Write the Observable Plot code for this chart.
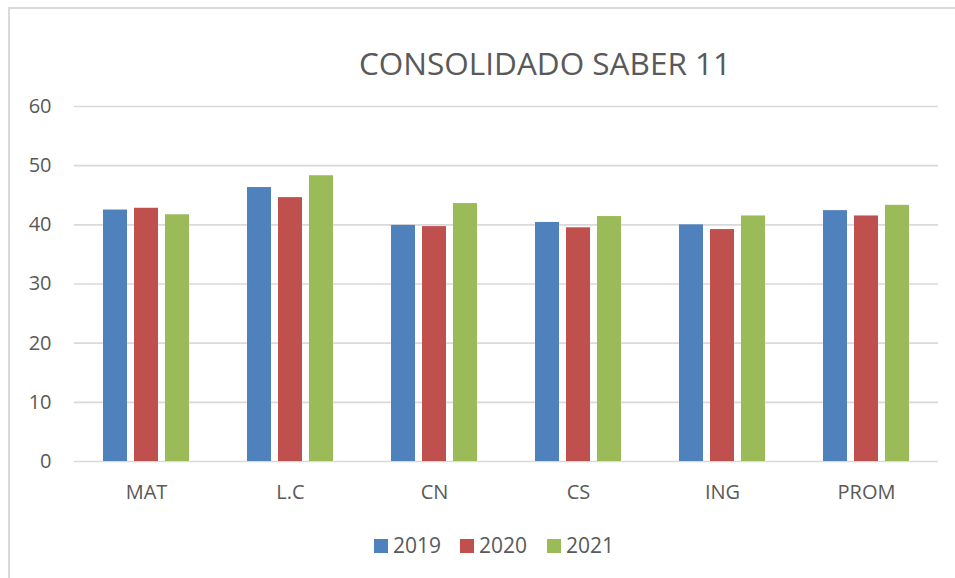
<!DOCTYPE html>
<html>
<head>
<meta charset="utf-8">
<script src="https://cdn.jsdelivr.net/npm/d3@7"></script>
<script src="https://cdn.jsdelivr.net/npm/@observablehq/plot@0.6"></script>
<style>
  html, body { margin: 0; padding: 0; background: #fff; }
  #wrap { position: relative; width: 955px; height: 578px; overflow: hidden; font-family: "Open Sans", sans-serif; color: #595959; }
  #border { position: absolute; left: 8px; top: 7px; right: -10px; bottom: -10px; border-left: 2px solid #d9d9d9; border-top: 2px solid #d9d9d9; }
  #chart { position: absolute; left: 0; top: 0; }
  #title { position: absolute; left: 0; width: 1090px; top: 40px; text-align: center; font-size: 31.5px; line-height: 46px; white-space: nowrap; }
  .leg { position: absolute; top: 530px; height: 30px; font-size: 21px; line-height: 30px; white-space: nowrap; }
  .sw { position: absolute; top: 9px; left: 0; width: 14px; height: 14px; }
  .lt { position: absolute; left: 19px; top: 0; }
</style>
</head>
<body>
<div id="wrap">
  <div id="border"></div>
  <div id="chart"></div>
  <div id="title">CONSOLIDADO SABER 11</div>
  <div id="legend"></div>
</div>
<script>
const categories = ["MAT", "L.C", "CN", "CS", "ING", "PROM"];
const years = ["2019", "2020", "2021"];
const v2019 = [42.5, 46.3, 39.9, 40.4, 40.0, 42.4];
const v2020 = [42.8, 44.6, 39.7, 39.5, 39.2, 41.5];
const v2021 = [41.7, 48.3, 43.6, 41.4, 41.5, 43.3];
const yTicks = [0, 10, 20, 30, 40, 50, 60];
const colors = ["#4f81bd", "#c0504d", "#9bbb59"];

const series = [v2019, v2020, v2021];
const data = [];
categories.forEach((c, i) => {
  years.forEach((y, j) => data.push({cat: c, year: y, value: series[j][i]}));
});

const chart = Plot.plot({
  width: 955,
  height: 578,
  marginLeft: 73,
  marginRight: 16,
  marginTop: 106,
  marginBottom: 117,
  style: {fontFamily: "Open Sans, sans-serif", color: "#595959", background: "transparent"},
  fx: {domain: categories, padding: 0, label: null},
  x: {domain: years, paddingInner: 0.21875, paddingOuter: 0.8645, axis: null},
  y: {domain: [0, 60], label: null, axis: null},
  color: {domain: years, range: colors},
  marks: [
    Plot.ruleY(yTicks, {stroke: "#d9d9d9", strokeWidth: 1.6}),
    Plot.barY(data, {fx: "cat", x: "year", y: "value", fill: "year"}),
    Plot.axisY({ticks: yTicks, tickSize: 0, tickPadding: 23, fontSize: 20, label: null}),
    Plot.axisFx({anchor: "bottom", tickSize: 0, tickPadding: 23, fontSize: 20, label: null})
  ]
});
document.getElementById("chart").appendChild(chart);

const legend = document.getElementById("legend");
const legX = [374, 460, 547];
years.forEach((y, j) => {
  const item = document.createElement("div");
  item.className = "leg";
  item.style.left = legX[j] + "px";
  item.innerHTML = `<div class="sw" style="background:${colors[j]}"></div><div class="lt">${y}</div>`;
  legend.appendChild(item);
});
</script>
</body>
</html>
